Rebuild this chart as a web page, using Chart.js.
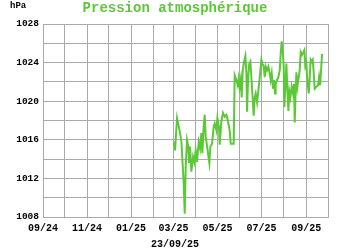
<!DOCTYPE html>
<html>
<head>
<meta charset="utf-8">
<script src="https://cdn.jsdelivr.net/npm/chart.js@4"></script>
<style>
html,body{margin:0;padding:0;background:#fff;}
#wrap{width:350px;height:250px;position:relative;}
</style>
</head>
<body>
<div id="wrap"><canvas id="c" width="350" height="250"></canvas></div>
<script>
// ---- data ----
const titleText = 'Pression atmosphérique';
const unitText = 'hPa';
const dateText = '23/09/25';
// x axis: days since 2024-09-01, ticks at month starts
const monthTicks = [0,30,61,91,122,153,181,212,242,273,303,334,365,395];
const monthLabels = ['09/24','','11/24','','01/25','','03/25','','05/25','','07/25','','09/25',''];
const yMin = 1008, yMax = 1028, yStep = 2, yLabelStep = 4;
// days since 2024-09-01
const dayOffsets = [181.6,183,185.8,189.5,191.8,193.2,195,196.4,197.8,199.6,201.5,202.4,203.8,205.6,208,209.8,211.6,213.5,215.8,217.7,219.5,220.9,222.7,224.1,225.5,226.9,228.7,230.6,232,234.3,236.6,238,240.3,241.7,244,244.9,247.2,249.5,251.8,254.2,256.5,258.8,260.2,262.5,264.3,265.7,268,269.9,271.2,272.6,274,275.4,276.8,278.6,280.5,281.9,282.8,284.2,285.6,287.4,288.8,290.2,292,293.4,294.8,296.7,298.5,300.4,302.7,304.1,305.9,307.3,308.7,310.5,312.4,314.2,315.6,317,318.8,320.2,321.6,322.5,324.4,326.2,328.1,329.5,330.8,332.2,333.6,334.5,335.9,337.3,338.7,340.1,341.5,342.9,344.7,346.5,347.9,348.9,350.2,351.2,352.6,354.4,355.8,357.2,359,360.4,362.3,363.6,365,366.4,368.3,369.7,371,372.4,373.8,375.2,376.6,378.9,381.2,382.6,384,385.4,386.75];
const pressure = [1015.8,1014.9,1018.25,1016.9,1015.8,1013.9,1011.5,1008.35,1013.2,1016.0,1015.3,1013.6,1015.3,1012.7,1014.25,1013.7,1014.9,1013.7,1015.8,1015.1,1016.7,1014.6,1017.4,1018.6,1016.3,1015.6,1014.6,1013.6,1015.3,1015.6,1017.4,1017.7,1017.0,1018.25,1017.2,1015.5,1017.9,1018.8,1018.4,1018.6,1017.9,1016.9,1015.6,1015.6,1015.6,1022.7,1022.2,1021.65,1022.35,1021.5,1022.2,1020.4,1023.2,1024.1,1024.7,1022.9,1018.9,1022.2,1023.8,1024.1,1022.5,1020.8,1018.5,1020.4,1020.8,1019.9,1021.1,1022.5,1024.3,1023.9,1023.6,1022.5,1023.6,1023.2,1023.6,1022.9,1022.2,1022.9,1021.3,1022.2,1020.8,1021.8,1022.2,1022.5,1023.2,1025.0,1026.2,1025.3,1023.6,1019.4,1021.5,1023.9,1021.3,1019.0,1021.0,1020.4,1021.5,1020.8,1021.8,1017.8,1021.1,1023.0,1021.5,1022.5,1023.2,1025.1,1024.8,1025.0,1025.3,1023.6,1023.9,1022.2,1020.8,1022.5,1024.3,1024.1,1024.3,1023.0,1021.3,1021.5,1021.65,1022.5,1021.65,1023.2,1024.9];

// ---- styles ----
const FONT = '"Liberation Mono", "Courier New", monospace';
const GREEN = '#5bc836';
const GRID = '#aaaaaa';

const points = dayOffsets.map((d, i) => ({x: d, y: pressure[i]}));

const textPlugin = {
  id: 'texts',
  afterDraw(chart) {
    const ctx = chart.ctx;
    ctx.save();
    ctx.textBaseline = 'middle';
    ctx.textAlign = 'center';
    ctx.fillStyle = GREEN;
    ctx.font = 'bold 14px ' + FONT;
    ctx.fillText(titleText, 175, 8);
    ctx.fillStyle = '#000';
    ctx.font = 'bold 9px ' + FONT;
    ctx.textAlign = 'left';
    ctx.fillText(unitText, 10, 6);
    ctx.textAlign = 'center';
    ctx.font = 'bold 10px ' + FONT;
    ctx.fillText(dateText, 175, 244);
    ctx.restore();
  }
};

new Chart(document.getElementById('c'), {
  type: 'line',
  data: {
    datasets: [{
      data: points,
      borderColor: GREEN,
      borderWidth: 2,
      pointRadius: 0,
      tension: 0,
      fill: false
    }]
  },
  options: {
    responsive: false,
    animation: false,
    devicePixelRatio: 1,
    layout: {padding: {top: 24, right: 22, left: 0, bottom: 0}},
    plugins: {legend: {display: false}, tooltip: {enabled: false}, title: {display: false}},
    scales: {
      x: {
        type: 'linear',
        min: monthTicks[0],
        max: monthTicks[monthTicks.length - 1],
        afterBuildTicks(scale) { scale.ticks = monthTicks.map(v => ({value: v})); },
        afterFit(scale) { scale.height = 33; },
        grid: {color: GRID, lineWidth: 1, drawTicks: false},
        border: {color: GRID, width: 1},
        ticks: {
          autoSkip: false, maxRotation: 0, padding: 5,
          color: '#000', font: {family: FONT, size: 10, weight: 'bold'},
          callback: (v, i) => monthLabels[i]
        }
      },
      y: {
        min: yMin, max: yMax,
        afterFit(scale) { scale.width = 43; },
        grid: {color: GRID, lineWidth: 1, drawTicks: false},
        border: {color: GRID, width: 1},
        ticks: {
          stepSize: yStep, padding: 4,
          color: '#000', font: {family: FONT, size: 9.5, weight: 'bold'},
          callback: v => (v % yLabelStep === 0 ? String(v) : '')
        }
      }
    }
  },
  plugins: [textPlugin]
});
</script>
</body>
</html>
